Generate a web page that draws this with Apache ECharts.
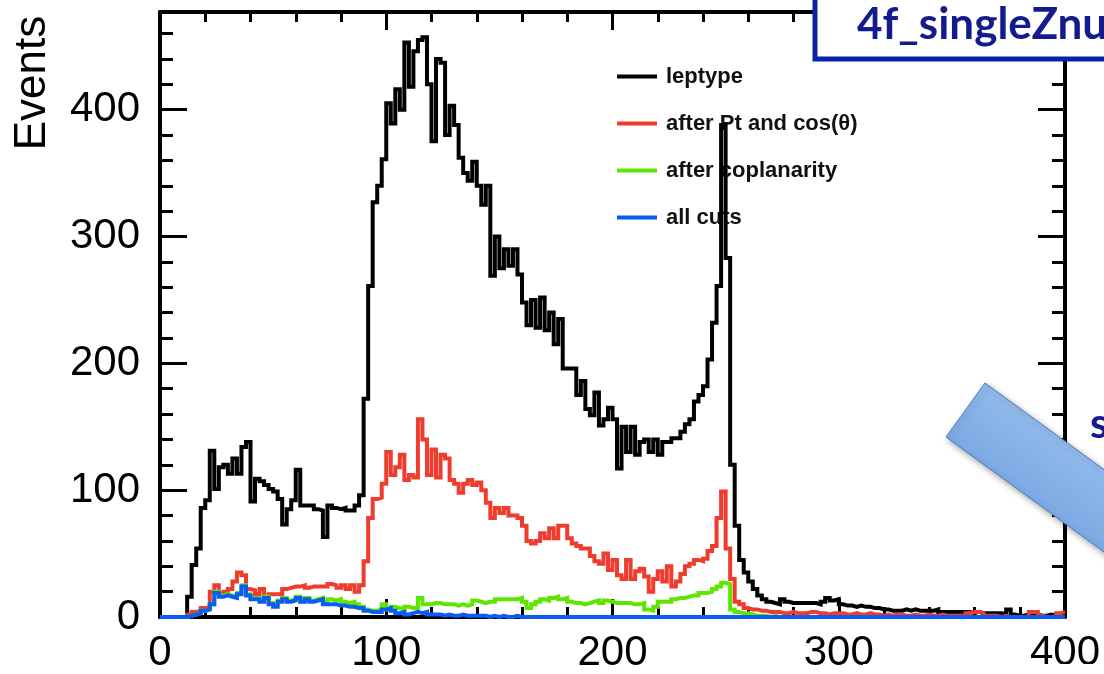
<!DOCTYPE html>
<html><head><meta charset="utf-8">
<script src="https://cdn.jsdelivr.net/npm/echarts@6/dist/echarts.min.js"></script>
<style>html,body{margin:0;padding:0;background:#fff}#c{width:1104px;height:674px}</style>
</head><body><div id="c"></div>
<script>
// ---- data (histogram, bin width 2 from 0 to 400) ----
const binWidth = 2;
const xMin = 0;
const xMax = 400;
const yMax = 477;
const seriesNames = ['leptype', 'after Pt and cos(\u03b8)', 'after coplanarity', 'all cuts'];
const seriesColors = ['#000000', '#f03c2e', '#5fe600', '#0b5cf2'];
const xTickLabels = ['0', '100', '200', '300', '400'];
const yTickLabels = ['0', '100', '200', '300', '400'];

const leptype = [
  0,0,0,0,0,0,16,41,54,86,
  92,131,101,118,120,113,125,113,134,138,
  91,109,107,104,101,99,93,73,85,92,
  116,88,88,88,85,84,63,88,86,85,
  86,84,84,88,96,172,261,327,340,361,
  405,389,416,400,453,418,446,455,457,420,
  375,440,437,380,403,388,362,350,344,359,
  340,325,340,269,300,275,290,277,290,270,
  248,230,250,228,252,226,240,215,235,196,
  196,196,175,186,164,159,177,151,156,165,
  156,117,150,130,150,128,138,140,130,140,
  128,138,138,141,141,146,152,156,170,175,
  182,203,232,261,388,283,120,72,45,35,
  28,22,17,14,12,11,10,14,12,11,
  11,11,11,11,11,10,12,15,13,14,
  10,9,9,8,9,8,8,7,7,6,
  6,5,5,5,6,5,6,5,5,5,
  5,6,4,4,4,4,4,4,4,3,
  4,3,3,3,3,3,2,6,2,1,
  1,2,1,2,1,1,2,1,1,1
];
const afterPtCos = [
  0,0,0,0,0,0,2,4,5,7,
  8,20,25,18,20,22,28,35,33,22,
  21,18,22,15,18,18,18,22,23,24,
  24,25,23,24,24,24,24,26,25,23,
  25,22,25,20,25,44,78,93,94,105,
  130,112,118,128,108,112,110,156,140,112,
  132,110,128,125,108,105,98,105,108,104,
  106,100,90,78,86,82,86,80,80,78,
  72,60,58,60,66,62,70,62,72,72,
  62,58,56,54,54,48,44,42,50,37,
  45,33,30,45,30,36,38,32,20,30,
  36,28,40,24,28,34,40,42,45,44,
  46,52,56,78,99,54,30,12,10,7,
  6,6,5,5,4,4,4,3,3,4,
  3,3,3,4,4,3,3,2,3,3,
  3,2,2,3,2,2,3,2,2,1,
  2,1,2,2,1,1,2,1,1,2,
  1,1,2,1,1,1,1,1,3,4,
  4,3,1,1,1,0,1,0,0,0,
  0,0,4,4,1,0,0,0,3,4
];
const afterCoplanarity = [
  0,0,0,0,0,0,1,2,3,5,
  6,10,20,17,18,17,16,19,25,18,
  15,15,13,16,11,9,13,15,13,14,
  16,13,15,13,14,15,12,14,13,14,
  12,11,12,10,8,6,5,5,6,10,
  6,8,7,6,8,7,7,15,10,10,
  11,11,10,10,10,9,10,9,10,13,
  12,11,12,12,14,14,14,14,14,15,
  12,7,10,12,14,13,15,16,14,15,
  12,11,11,10,11,12,13,11,13,12,
  11,11,11,11,10,10,11,6,5,8,
  12,12,12,14,15,15,16,17,17,19,
  19,20,22,24,27,26,6,4,3,3,
  2,1,1,1,0,1,0,0,0,0,
  0,0,0,0,0,0,0,0,0,0,
  0,0,0,0,0,0,0,0,0,0,
  0,0,0,0,0,0,0,0,0,0,
  0,0,0,0,0,0,0,0,0,0,
  0,0,0,0,0,0,0,0,0,0,
  0,0,0,0,0,0,0,0,0,0
];
const allCuts = [
  0,0,0,0,0,0,1,2,3,5,
  6,10,19,16,17,16,15,18,24,17,
  14,14,12,15,10,8,12,14,12,13,
  15,12,14,12,13,14,10,10,10,9,
  9,8,8,7,7,5,4,4,4,6,
  7,5,3,4,2,3,4,3,4,2,
  2,2,1,2,1,1,2,1,1,1,
  1,1,0,1,0,1,0,0,1,0,
  0,0,0,0,0,0,0,0,0,0,
  0,0,0,0,0,0,0,0,0,0,
  0,0,0,0,0,0,0,0,0,0,
  0,0,0,0,0,0,0,0,0,0,
  0,0,0,0,0,0,0,0,0,0,
  0,0,0,0,0,0,0,0,0,0,
  0,0,0,0,0,0,0,0,0,0,
  0,0,0,0,0,0,0,0,0,0,
  0,0,0,0,0,0,0,0,0,0,
  0,0,0,0,0,0,0,0,0,0,
  0,0,0,0,0,0,0,0,0,0,
  0,0,0,0,0,0,0,0,0,0
];
const allSeries = [leptype, afterPtCos, afterCoplanarity, allCuts];

function toSteps(vals) {
  const pts = vals.map((v, k) => [xMin + k * binWidth, v]);
  pts.push([xMin + vals.length * binWidth, vals[vals.length - 1]]);
  return pts;
}

const chart = echarts.init(document.getElementById('c'), null, {renderer: 'canvas'});
const axisFont = {fontFamily: 'Liberation Sans', fontSize: 42, color: '#000'};
const frameLine = {show: true, onZero: false, lineStyle: {color: '#000', width: 4}};

function yAxisDef(position, interval, tickLen, showLine, showLabel) {
  return {
    type: 'value', position: position, min: 0, max: yMax, interval: interval,
    axisLine: showLine ? frameLine : {show: false, onZero: false},
    axisTick: {show: true, inside: true, length: tickLen, lineStyle: {color: '#000', width: 3}},
    axisLabel: showLabel ? Object.assign({
      show: true, margin: 20,
      formatter: v => (yTickLabels.indexOf(String(v)) >= 0 ? String(v) : '')
    }, axisFont) : {show: false},
    splitLine: {show: false}
  };
}
function xAxisDef(position, showLabel) {
  return {
    type: 'value', position: position, min: xMin, max: xMax, interval: 100,
    axisLine: frameLine,
    axisTick: {show: true, inside: true, length: 18, lineStyle: {color: '#000', width: 3}},
    minorTick: {show: true, splitNumber: 5, length: 10, lineStyle: {color: '#000', width: 3}},
    axisLabel: showLabel ? Object.assign({
      show: true, margin: 15,
      formatter: v => (xTickLabels.indexOf(String(v)) >= 0 ? String(v) : '')
    }, axisFont) : {show: false},
    splitLine: {show: false}, minorSplitLine: {show: false}
  };
}

const option = {
  backgroundColor: '#fff',
  animation: false,
  grid: {left: 160, right: 39, top: 12, bottom: 55},
  xAxis: [xAxisDef('bottom', true), xAxisDef('top', false)],
  yAxis: [
    yAxisDef('left', 20, 13, true, true),
    yAxisDef('left', 100, 27, false, false),
    yAxisDef('right', 20, 13, true, false),
    yAxisDef('right', 100, 27, false, false)
  ],
  legend: {
    orient: 'vertical', left: 612, top: 59, z: 1,
    icon: 'rect', itemWidth: 40, itemHeight: 4, itemGap: 22,
    data: seriesNames,
    textStyle: {fontFamily: 'Liberation Sans', fontWeight: 'bold', fontSize: 22, lineHeight: 25, color: '#111', padding: [0, 0, 0, 4]}
  },
  series: allSeries.map((vals, i) => ({
    name: seriesNames[i], type: 'line', step: 'end',
    xAxisIndex: 0, yAxisIndex: 0, z: 2 + i,
    symbol: 'none', clip: true,
    color: seriesColors[i],
    lineStyle: {color: seriesColors[i], width: 4, join: 'miter', cap: 'butt'},
    data: toSteps(vals)
  })),
  graphic: [
    {type: 'text', x: 33, y: 83, rotation: Math.PI / 2, z: 50,
     style: {text: 'Events', font: '44px "Liberation Sans"', fill: '#000', textAlign: 'center', textVerticalAlign: 'middle'}},
    {type: 'rect', z: 100, shape: {x: 815, y: -10, width: 330, height: 69},
     style: {fill: '#fff', stroke: '#0b22a6', lineWidth: 5}},
    {type: 'text', x: 857, y: 25, z: 101,
     style: {text: '4f_singleZnu', font: 'bold 44px Lato', fill: '#131c8f', textAlign: 'left', textVerticalAlign: 'middle'}},
    {type: 'text', x: 1090, y: 424, z: 101,
     style: {text: 's', font: 'bold 42px Lato', fill: '#131c8f', textAlign: 'left', textVerticalAlign: 'middle'}},
    {type: 'polygon', z: 100,
     shape: {points: [[985, 383], [946, 437], [1148, 584], [1187, 530]]},
     style: {
       fill: new echarts.graphic.LinearGradient(0, 1, 0.6, 0, [
         {offset: 0, color: '#5a8ed6'}, {offset: 1, color: '#a3c8f3'}
       ]),
       stroke: '#4a7ebf', lineWidth: 1,
       shadowBlur: 6, shadowColor: 'rgba(0,0,0,0.35)', shadowOffsetX: 2, shadowOffsetY: 3
     }},
    {type: 'rect', z: 100, shape: {x: 863, y: 664, width: 241, height: 10},
     style: {fill: '#fff'}}
  ]
};
chart.setOption(option);
</script>
</body></html>
